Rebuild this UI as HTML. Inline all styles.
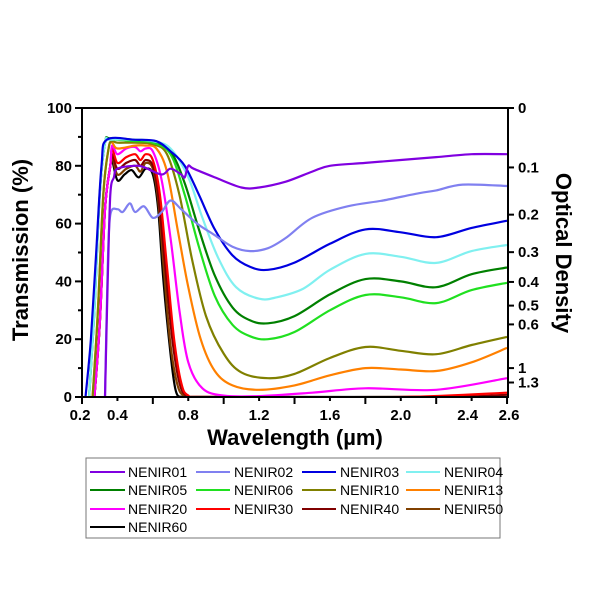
<!DOCTYPE html>
<html><head><meta charset="utf-8"><style>
body{margin:0;background:#fff;}
svg{display:block;font-family:"Liberation Sans",Arial,sans-serif;}
</style></head><body>
<svg id="s" width="600" height="600" viewBox="0 0 600 600" xmlns="http://www.w3.org/2000/svg">
<defs><clipPath id="c"><rect x="82" y="100" width="426" height="298"/></clipPath></defs>
<g id="curves" clip-path="url(#c)" fill="none" stroke-width="2.2" stroke-linejoin="round"></g>
<g id="axes" stroke="#000" stroke-width="2" fill="none"></g>
<g id="labels" font-weight="bold" font-size="15" fill="#000"></g>
<text x="28" y="250" transform="rotate(-90 28 250)" text-anchor="middle" font-weight="bold" font-size="22">Transmission (%)</text>
<text x="556" y="253" transform="rotate(90 556 253)" text-anchor="middle" font-weight="bold" font-size="22">Optical Density</text>
<text x="295" y="445" text-anchor="middle" font-weight="bold" font-size="22">Wavelength (µm)</text>
<rect x="86" y="458" width="414" height="80" fill="none" stroke="#777" stroke-width="1"/>
<g id="legend" font-size="14" fill="#000"></g>
</svg>
<script>
const X=w=>82+(w-0.2)*177.1, Y=t=>397-t*2.89;
const rA=[[0.24,0],[0.27,30],[0.3,70],[0.33,88]],rB=[[0.26,0],[0.29,30],[0.32,70],[0.35,86]],rC=[[0.27,0],[0.3,25],[0.33,65],[0.36,80]];
const S=[
["NENIR60","#000000",rC.concat([[0.37,82],[0.4,75],[0.44,77],[0.48,78.5],[0.52,76],[0.56,79],[0.6,77],[0.63,65],[0.66,40],[0.7,15],[0.73,2],[0.77,0],[0.85,0],[2.6,0]])],
["NENIR50","#804000",rC.concat([[0.37,83],[0.4,77],[0.45,79],[0.5,80],[0.53,78],[0.56,81],[0.6,79],[0.63,68],[0.665,42],[0.7,18],[0.74,4],[0.78,0.3],[0.85,0],[2.6,0]])],
["NENIR40","#800000",rC.concat([[0.37,84],[0.4,79],[0.45,81],[0.5,82],[0.53,80],[0.56,82],[0.6,80],[0.63,70],[0.67,45],[0.71,20],[0.75,5],[0.79,0.5],[0.88,0],[2.2,0],[2.6,0.8]])],
["NENIR30","#ff0000",rC.concat([[0.37,86],[0.4,81],[0.45,83],[0.5,84],[0.53,82],[0.56,84],[0.6,82],[0.64,70],[0.68,45],[0.72,20],[0.76,5],[0.8,0.5],[0.9,0],[2.0,0],[2.6,1.5]])],
["NENIR20","#ff00ff",rC.concat([[0.37,87],[0.4,84],[0.45,86],[0.5,86.5],[0.53,85],[0.56,86],[0.6,85],[0.65,75],[0.7,55],[0.75,30],[0.8,12],[0.88,3],[1.0,0.5],[1.2,0.3],[1.5,1.5],[1.8,3],[2.2,2.5],[2.6,6.5]])],
["NENIR13","#ff8000",rB.concat([[0.37,88],[0.4,86],[0.5,87],[0.56,87],[0.62,86],[0.68,78],[0.74,58],[0.8,38],[0.87,20],[0.95,9],[1.05,4],[1.2,2.5],[1.4,4],[1.6,7.5],[1.8,10],[2.0,9.5],[2.2,9],[2.4,12],[2.6,17]])],
["NENIR10","#808000",rB.concat([[0.37,88.5],[0.4,88],[0.5,88],[0.6,87.5],[0.68,84],[0.75,70],[0.82,48],[0.9,28],[1.0,15],[1.1,8.5],[1.25,6.5],[1.4,8],[1.6,13.5],[1.8,17.3],[2.0,16],[2.2,14.8],[2.4,18],[2.6,20.8]])],
["NENIR06","#20e020",rA.concat([[0.36,89],[0.4,89],[0.5,88.5],[0.6,88],[0.7,84],[0.78,70],[0.86,52],[0.95,35],[1.05,25],[1.15,21],[1.25,20],[1.4,22.5],[1.6,30],[1.8,35.3],[2.0,34.5],[2.2,32.5],[2.4,37],[2.6,39.5]])],
["NENIR05","#008000",rA.concat([[0.36,89.5],[0.5,89],[0.6,88.5],[0.7,85],[0.78,74],[0.86,58],[0.95,42],[1.05,31],[1.15,26.5],[1.25,25.5],[1.4,28],[1.6,35.5],[1.8,40.8],[2.0,40],[2.2,38],[2.4,42.5],[2.6,44.8]])],
["NENIR04","#80f0f0",rA.concat([[0.36,89],[0.5,89],[0.6,88.5],[0.7,86],[0.8,76],[0.88,62],[0.97,48],[1.07,38],[1.2,34],[1.3,34.5],[1.45,37.5],[1.6,44],[1.8,49.5],[2.0,48.5],[2.2,46.4],[2.4,50.5],[2.6,52.6]])],
["NENIR03","#0000e0",[[0.22,0],[0.25,20],[0.28,50],[0.31,80],[0.34,89],[0.5,89],[0.62,88.5],[0.7,85],[0.78,80],[0.86,70],[0.95,58],[1.05,49],[1.15,45],[1.25,44],[1.4,46.5],[1.6,53],[1.8,58],[2.0,57],[2.2,55.3],[2.4,58.5],[2.6,61]]],
["NENIR02","#8080f0",[[0.33,0],[0.345,45],[0.36,63],[0.4,65],[0.43,64],[0.47,67],[0.5,64],[0.55,66],[0.6,62],[0.65,64],[0.7,68],[0.76,65],[0.85,60],[0.95,56],[1.05,52],[1.15,50.5],[1.25,51.5],[1.35,55],[1.5,62],[1.7,66],[1.9,68],[2.1,70.5],[2.2,71.5],[2.35,73.5],[2.6,73]]],
["NENIR01","#8000e0",[[0.33,0],[0.345,40],[0.36,70],[0.38,76],[0.4,79],[0.5,80],[0.55,79.5],[0.65,77],[0.7,79],[0.76,77],[0.78,76],[0.8,80],[0.83,79],[0.95,76],[1.1,72.5],[1.2,72.5],[1.35,74.5],[1.5,78],[1.6,80],[1.8,81],[2.0,82],[2.2,83],[2.4,84],[2.6,84]]]
];
function path(pts){const p=pts.map(a=>[X(a[0]),Y(a[1])]);let d="M"+p[0][0].toFixed(1)+","+p[0][1].toFixed(1);
for(let i=0;i<p.length-1;i++){const p0=p[Math.max(0,i-1)],p1=p[i],p2=p[i+1],p3=p[Math.min(p.length-1,i+2)];
const c1=[p1[0]+(p2[0]-p0[0])/6,p1[1]+(p2[1]-p0[1])/6],c2=[p2[0]-(p3[0]-p1[0])/6,p2[1]-(p3[1]-p1[1])/6];
d+=" C"+c1.map(v=>v.toFixed(1))+" "+c2.map(v=>v.toFixed(1))+" "+p2.map(v=>v.toFixed(1));}return d;}
const NS="http://www.w3.org/2000/svg";function el(t,a,par){const e=document.createElementNS(NS,t);for(const k in a)e.setAttribute(k,a[k]);document.getElementById(par).appendChild(e);return e;}
S.forEach(s=>el("path",{d:path(s[2]),stroke:s[1]},"curves"));
el("path",{d:"M82,108 V397 H508 V108 H82"},"axes");
for(let t=0;t<=100;t+=10){const y=Y(t);el("line",{x1:82,x2:t%20?78:75,y1:y,y2:y},"axes");if(t%20==0){const e=el("text",{x:72,y:y+5,"text-anchor":"end"},"labels");e.textContent=t;}}
for(let w=0.2;w<=2.61;w+=0.2){const x=X(w),maj=Math.abs((w*10)%4-2)<0.01||w<0.21;el("line",{x1:x,x2:x,y1:397,y2:maj?404:401},"axes");}
[["0.2",0.2],["0.4",0.4],["0.8",0.8],["1.2",1.2],["1.6",1.6],["2.0",2.0],["2.4",2.4],["2.6",2.6]].forEach(a=>{let x=X(a[1]);if(a[0]=="2.4")x-=4;if(a[0]=="2.6")x+=2;if(a[0]=="0.2")x-=2;const e=el("text",{x:x,y:420,"text-anchor":"middle"},"labels");e.textContent=a[0];});
[0,0.1,0.2,0.3,0.4,0.5,0.6,1,1.3].forEach(o=>{const y=Y(100*Math.pow(10,-o));el("line",{x1:508,x2:514,y1:y,y2:y},"axes");const e=el("text",{x:518,y:y+5},"labels");e.textContent=o;});
const L=["NENIR01","NENIR02","NENIR03","NENIR04","NENIR05","NENIR06","NENIR10","NENIR13","NENIR20","NENIR30","NENIR40","NENIR50","NENIR60"];
const cols=[[90,125,128],[196,230,234],[302,336,340],[406,440,444]],rows=[472,490,509,527];
L.forEach((n,i)=>{const s=S.find(a=>a[0]==n),c=cols[i%4],y=rows[Math.floor(i/4)];
el("line",{x1:c[0],x2:c[1],y1:y,y2:y,stroke:s[1],"stroke-width":2},"legend");const e=el("text",{x:c[2],y:y+5},"legend");e.textContent=n;});
</script>
</body></html>
